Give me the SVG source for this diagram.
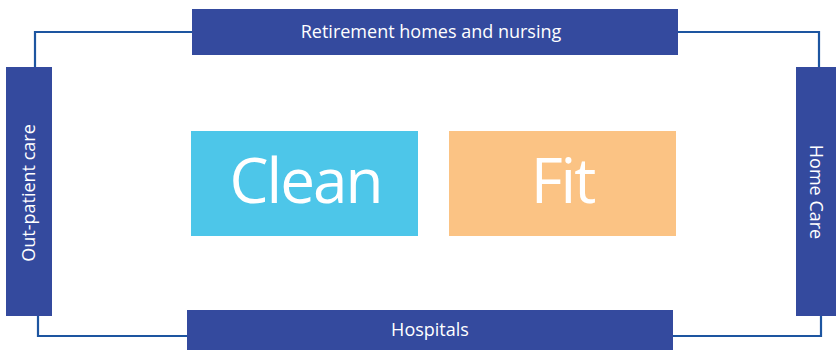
<svg xmlns="http://www.w3.org/2000/svg" width="836" height="350" viewBox="0 0 836 350">
<style>
.box{fill:#344a9e}
.lbl{fill:#ffffff;font-family:"Open Sans","Noto Sans",sans-serif;font-size:18px}
.big{fill:#ffffff;font-family:"Open Sans","Noto Sans",sans-serif;font-size:62px;letter-spacing:-2px}
.conn{fill:none;stroke:#1d55a0;stroke-width:2.2}
</style>
<rect width="836" height="350" fill="#ffffff"/>
<g id="connectors">
<polyline class="conn" points="192,32 35,32 35,67"/>
<polyline class="conn" points="678,32 819,32 819,67"/>
<polyline class="conn" points="38,316 38,336 187,336"/>
<polyline class="conn" points="673,336 821,336 821,316"/>
</g>
<g id="top">
<rect class="box" x="192" y="9" width="486" height="46"/>
<text class="lbl" x="431" y="38" text-anchor="middle">Retirement homes and nursing</text>
</g>
<g id="bottom">
<rect class="box" x="187" y="310" width="486" height="40"/>
<text class="lbl" x="430" y="336" text-anchor="middle">Hospitals</text>
</g>
<g id="left">
<rect class="box" x="6" y="67" width="46" height="249"/>
<text class="lbl" transform="translate(35,193) rotate(-90)" text-anchor="middle">Out-patient care</text>
</g>
<g id="right">
<rect class="box" x="796" y="67" width="40" height="249"/>
<text class="lbl" transform="translate(810,192) rotate(90)" text-anchor="middle">Home Care</text>
</g>
<g id="clean">
<rect x="191" y="131" width="227" height="105" fill="#4dc6e9"/>
<text class="big" x="305.5" y="203" text-anchor="middle">Clean</text>
</g>
<g id="fit">
<rect x="449" y="131" width="227" height="105" fill="#fbc384"/>
<text class="big" x="562.5" y="203" text-anchor="middle">Fit</text>
</g>
</svg>
